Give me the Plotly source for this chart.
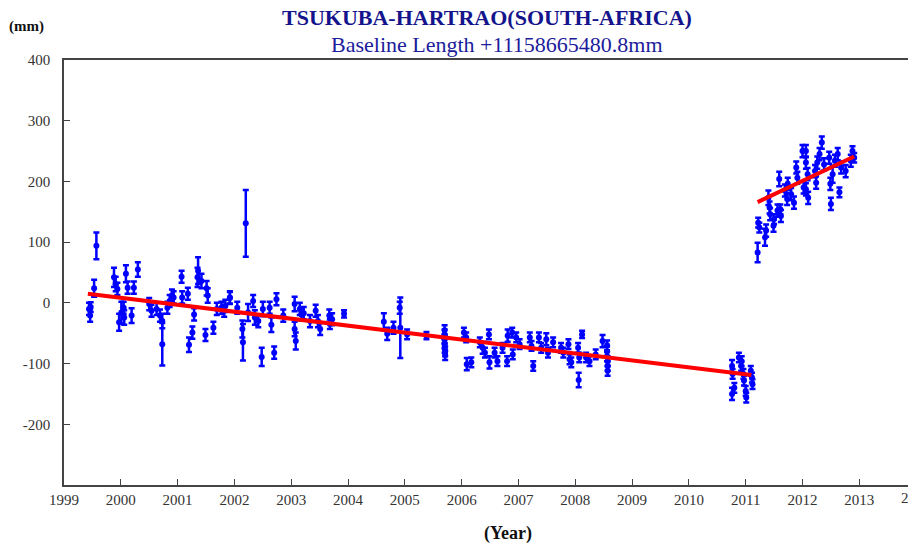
import plotly.graph_objects as go

# baseline length residuals (mm)
years = [
    1999.44, 1999.46, 1999.47, 1999.53, 1999.57, 1999.88, 1999.91, 1999.94, 1999.97, 2000.01,
    2000.05, 2000.06, 2000.09, 2000.12, 2000.19, 2000.23, 2000.30, 2000.50, 2000.54, 2000.63,
    2000.69, 2000.73, 2000.73, 2000.82, 2000.86, 2000.90, 2000.93, 2001.07, 2001.08, 2001.18,
    2001.20, 2001.26, 2001.29, 2001.35, 2001.36, 2001.42, 2001.49, 2001.51, 2001.53, 2001.63,
    2001.69, 2001.77, 2001.82, 2001.84, 2001.92, 2001.92, 2002.05, 2002.14, 2002.15, 2002.20,
    2002.24, 2002.33, 2002.36, 2002.42, 2002.48, 2002.50, 2002.62, 2002.65, 2002.70, 2002.74,
    2002.86, 2003.06, 2003.06, 2003.08, 2003.15, 2003.18, 2003.22, 2003.33, 2003.43, 2003.47,
    2003.51, 2003.67, 2003.68, 2003.72, 2003.93, 2004.63, 2004.69, 2004.80, 2004.91, 2004.92,
    2005.04, 2005.38, 2005.70, 2005.70, 2005.70, 2005.70, 2005.70, 2005.71, 2005.71, 2006.04,
    2006.08, 2006.09, 2006.17, 2006.32, 2006.37, 2006.41, 2006.48, 2006.49, 2006.58, 2006.63,
    2006.72, 2006.81, 2006.80, 2006.89, 2006.90, 2006.96, 2007.02, 2007.20, 2007.23, 2007.26,
    2007.36, 2007.40, 2007.49, 2007.52, 2007.61, 2007.75, 2007.79, 2007.88, 2007.90, 2007.93,
    2008.05, 2008.07, 2008.06, 2008.12, 2008.19, 2008.25, 2008.36, 2008.48, 2008.56, 2008.56,
    2008.56, 2008.57, 2008.57, 2008.57,
    2010.76, 2010.76, 2010.77, 2010.80, 2010.88, 2010.92, 2010.93, 2010.96, 2010.97, 2011.00,
    2011.01, 2011.09, 2011.11, 2011.12,
    2011.21, 2011.22, 2011.24, 2011.34, 2011.36, 2011.40, 2011.42, 2011.43, 2011.49, 2011.50,
    2011.56, 2011.61, 2011.62, 2011.59, 2011.69, 2011.73, 2011.74, 2011.80, 2011.85, 2011.89,
    2011.91, 2012.00, 2012.02, 2012.06, 2012.10, 2012.06, 2012.06, 2012.09, 2012.22, 2012.24,
    2012.26, 2012.30, 2012.34, 2012.38, 2012.47, 2012.49, 2012.50, 2012.53, 2012.57, 2012.62,
    2012.65, 2012.68, 2012.76, 2012.85, 2012.88, 2012.91,
]
values = [
    -10, -21, -7, 24, 94, 42, 31, 23, -32, -16,
    -8, -24, 48, 25, -21, 25, 55, -2, -13, -10,
    -21, -30, -68, -8, 3, 12, 9, 43, 9, 15,
    -69, -49, -19, 42, 53, 36, -53, 24, 12, -41,
    -10, -8, -13, -5, 8, 9, -8, -43, -65, 131,
    -16, 3, -24, -30, -89, -10, -8, -36, -82, 6,
    -21, -2, -43, -63, -10, -19, -17, -30, -13, -30,
    -43, -21, -35, -27, -18, -31, -51, -41, -8, -41,
    -52, -54, -45, -52, -60, -67, -74, -80, -86, -49,
    -57, -101, -98, -65, -74, -82, -52, -98, -82, -96,
    -74, -54, -96, -49, -85, -57, -68, -57, -71, -104,
    -57, -74, -60, -82, -65, -74, -82, -68, -93, -98,
    -74, -90, -127, -52, -90, -96, -85, -63, -70, -80,
    -88, -96, -104, -112,
    -104, -150, -117, -140, -90, -104, -96, -117, -128, -145,
    -156, -112, -123, -134,
    83, 132, 124, 108, 119, 173, 157, 146, 127, 138,
    152, 154, 143, 204, 185, 171, 196, 179, 165, 223,
    206, 250, 190, 187, 173, 250, 231, 212, 217, 198,
    231, 245, 264, 228, 239, 196, 163, 212, 234, 245,
    182, 223, 217, 234, 250, 239,
]
errors = [
    10, 10, 8, 14, 22, 16, 12, 10, 14, 18,
    10, 12, 14, 10, 12, 10, 12, 10, 10, 10,
    10, 12, 35, 10, 10, 10, 10, 10, 10, 10,
    12, 10, 10, 16, 22, 12, 10, 12, 12, 10,
    10, 10, 10, 10, 10, 10, 10, 14, 30, 55,
    14, 10, 12, 10, 15, 12, 10, 12, 10, 10,
    10, 12, 12, 14, 10, 10, 10, 10, 10, 10,
    10, 10, 8, 10, 6, 14, 10, 10, 10, 50,
    8, 6, 8, 8, 8, 8, 8, 8, 8, 8,
    8, 10, 8, 8, 10, 8, 8, 10, 8, 8,
    8, 10, 8, 8, 8, 8, 8, 8, 8, 8,
    8, 8, 10, 8, 8, 8, 8, 8, 8, 8,
    8, 8, 12, 6, 8, 8, 8, 10, 8, 8,
    8, 8, 8, 8,
    10, 10, 8, 8, 8, 8, 8, 8, 8, 8,
    8, 8, 8, 8,
    16, 8, 8, 14, 10, 12, 10, 10, 10, 8,
    10, 8, 10, 12, 10, 10, 10, 10, 10, 10,
    10, 10, 10, 10, 10, 10, 10, 10, 10, 10,
    10, 10, 10, 10, 10, 10, 10, 14, 10, 10,
    8, 10, 10, 10, 8, 8,
]

# fitted trend segments (before / after the 2011 jump)
trend1_x = [1999.42, 2011.10]
trend1_y = [15, -119]
trend2_x = [2011.21, 2012.91]
trend2_y = [166, 241]

x_ticks = list(range(1999, 2014))
y_ticks = [-200, -100, 0, 100, 200, 300, 400]
y_ticktext = ['-200', '-100', '0', '100', '200', '300', '400']  # plain hyphen like the original

X_MIN, X_MAX = 1999, 2013.91

SERIF = 'Liberation Serif, Times New Roman, serif'
TICK_FONT = dict(family=SERIF, size=15, color='#333333')

fig = go.Figure()

fig.add_trace(go.Scatter(
    x=years, y=values,
    mode='markers',
    marker=dict(color='#0000ff', size=6),
    error_y=dict(type='data', array=errors, color='#0000ff', thickness=2.5, width=3),
    showlegend=False,
))

for tx, ty in [(trend1_x, trend1_y), (trend2_x, trend2_y)]:
    fig.add_trace(go.Scatter(
        x=tx, y=ty, mode='lines',
        line=dict(color='#ff0000', width=4),
        showlegend=False,
    ))

axis_common = dict(
    showgrid=False, zeroline=False,
    showline=True, linecolor='#444444', linewidth=1.5, mirror=True,
    ticks='inside', ticklen=6, tickcolor='#444444', tickwidth=1,
    tickfont=TICK_FONT,
)

fig.update_xaxes(range=[X_MIN, X_MAX], tickvals=x_ticks, **axis_common)
fig.update_yaxes(range=[-300, 400], tickvals=y_ticks, ticktext=y_ticktext,
                 ticklabelstandoff=9, **axis_common)

# page body has an 8px margin, so the margins are shifted to land where the original is
fig.update_layout(
    width=908, height=537,
    margin=dict(l=56, r=3, t=52, b=60),
    paper_bgcolor='white', plot_bgcolor='white',
    font=dict(family=SERIF),
)

# the 2014 label sits just past the right edge and is cut by the window
fig.add_annotation(
    text='2014',
    xref='paper', yref='paper', x=(2014 - X_MIN) / (X_MAX - X_MIN), y=0,
    xanchor='center', yanchor='middle', yshift=-13, showarrow=False,
    font=TICK_FONT,
)

fig.add_annotation(
    text='<b>TSUKUBA-HARTRAO(SOUTH-AFRICA)</b>',
    xref='paper', yref='paper', x=0.4994, y=1.099,
    xanchor='center', yanchor='middle', showarrow=False,
    font=dict(family=SERIF, size=22, color='#14148c'),
)
fig.add_annotation(
    text='Baseline Length +11158665480.8mm',
    xref='paper', yref='paper', x=0.511, y=1.037,
    xanchor='center', yanchor='middle', showarrow=False,
    font=dict(family=SERIF, size=22, color='#1c1c9c'),
)
fig.add_annotation(
    text='<b>(mm)</b>',
    xref='paper', yref='paper', x=-0.0445, y=1.078,
    xanchor='center', yanchor='middle', showarrow=False,
    font=dict(family=SERIF, size=15, color='#111111'),
)
fig.add_annotation(
    text='<b>(Year)</b>',
    xref='paper', yref='paper', x=0.524, y=-0.113,
    xanchor='center', yanchor='middle', showarrow=False,
    font=dict(family=SERIF, size=18, color='#111111'),
)

fig.write_html('out.html')
